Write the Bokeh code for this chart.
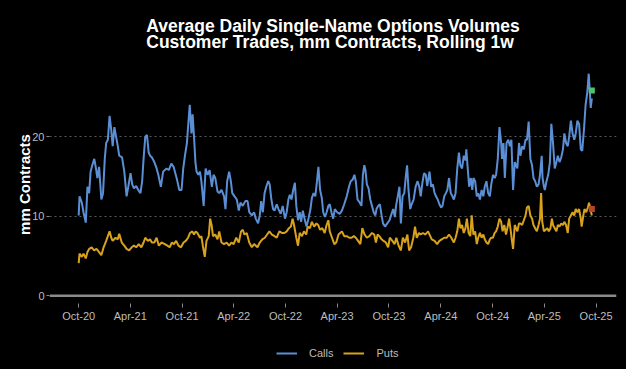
import pandas as pd
from bokeh.plotting import figure
from bokeh.layouts import column
from bokeh.models import (Range1d, FixedTicker, DatetimeTickFormatter, Span,
                          Legend, LegendItem, Title, ColumnDataSource)
from bokeh.embed import file_html
from bokeh.resources import INLINE

# ---------------- data ----------------
start_date = "2020-10-01"

call_days = [0, 3, 11, 17, 25, 31, 37, 42, 48, 55, 61, 66, 72, 80, 86, 92, 97, 103, 109, 115,
             120, 126, 132, 138, 143, 153, 161, 169, 175, 183, 189, 195, 203, 210, 218, 224, 229,
             235, 241, 247, 252, 258, 267, 275, 281, 290, 298, 310,
             318, 327, 335, 341, 347, 355, 363, 369, 375, 382, 386, 392, 398, 402, 407, 412, 416,
             422, 428, 433, 441, 448, 455, 462, 470, 476, 482, 490, 496, 504, 513, 518, 524, 531,
             537, 542, 550, 558, 565, 571, 579, 588, 596, 602, 611, 619,
             625, 633, 639, 644, 650, 656, 662, 669, 674, 680, 686, 691, 699, 705, 713, 720, 728,
             734, 740, 745, 751, 757, 763, 768, 774, 780, 785, 791, 797, 804, 811, 818, 823, 829,
             835, 841, 846, 852, 858, 863, 869, 875, 881, 886, 892, 898, 904, 912, 921, 929,
             937, 946, 954, 960, 967, 973, 978, 984, 992, 998, 1003, 1008, 1012, 1017, 1023, 1029,
             1035, 1041, 1047, 1051, 1057, 1063, 1069, 1074, 1081, 1089, 1097, 1104, 1110, 1116,
             1120, 1126, 1132, 1137, 1143, 1149, 1155, 1159, 1164, 1170, 1175, 1182, 1189, 1196,
             1202, 1207, 1213, 1219, 1225, 1230, 1238,
             1244, 1250, 1256, 1261, 1267, 1273, 1279, 1284, 1290, 1296, 1301, 1307, 1313, 1319,
             1324, 1330, 1336, 1342, 1347, 1353, 1359, 1365, 1368, 1373, 1378, 1384, 1389, 1393,
             1399, 1405, 1410, 1416, 1422, 1428, 1433, 1439, 1445, 1451, 1456, 1462, 1468, 1473,
             1479, 1485, 1491, 1494, 1499, 1504, 1510, 1516, 1522, 1527, 1533, 1539, 1548,
             1554, 1559, 1565, 1571, 1577, 1582, 1588, 1594, 1600, 1605, 1611, 1617, 1623, 1628,
             1634, 1637, 1642, 1645, 1651, 1657, 1663, 1668, 1674, 1680, 1686, 1691, 1697, 1703,
             1709, 1714, 1720, 1726, 1731, 1737, 1743, 1749, 1754, 1760, 1766, 1772, 1777, 1783,
             1789, 1795, 1800, 1804, 1807, 1811]

calls = [10.1, 12.5, 11.7, 10.5, 9.2, 13.7, 12.9, 15.6, 16.4, 17.2, 16.0, 14.8, 16.2, 12.1, 12.9,
         17.2, 19.2, 19.6, 22.6, 20.8, 18.8, 21.2, 20.0, 18.8, 17.6, 17.4, 15.6, 12.5, 13.7, 15.4,
         14.0, 13.5, 13.8, 13.3, 12.9, 14.4, 17.2, 20.0, 20.2, 18.0, 17.6, 17.4, 16.8, 16.0, 15.2,
         13.7, 15.6, 16.0,
         15.8, 16.6, 16.2, 15.4, 14.6, 13.3, 13.3, 16.0, 17.6, 19.2, 21.2, 24.0, 20.4, 22.8, 20.0,
         16.8, 15.6, 15.2, 15.6, 14.4, 11.3, 16.0, 15.2, 15.8, 13.7, 15.2, 14.8, 13.1, 12.9, 13.3,
         12.5, 10.9, 14.4, 15.6, 14.4, 12.9, 12.5, 12.1, 10.7, 11.7, 11.3, 11.9, 11.9, 10.5, 10.1,
         10.5,
         9.7, 9.1, 10.1, 11.9, 10.5, 12.9, 13.7, 14.4, 14.0, 12.1, 10.9, 10.7, 11.5, 10.9, 10.3,
         11.3, 9.7, 10.5, 12.1, 12.7, 12.1, 13.3, 14.2, 11.3, 9.5, 10.5, 9.3, 10.7, 9.7, 8.7,
         9.7, 10.9, 12.3, 12.9, 12.5, 14.4, 16.2, 13.3, 12.3, 10.5, 9.9, 10.5, 11.3, 11.5, 10.5,
         9.7, 10.9, 10.5, 10.3, 10.7,
         11.5, 12.5, 13.7, 14.4, 14.6, 15.2, 14.4, 12.1, 11.7, 11.3, 15.2, 16.4, 15.8, 14.0, 13.5,
         12.1, 11.3, 10.5, 10.1, 10.9, 11.3, 11.5, 10.1, 9.1, 8.7, 9.1, 9.5, 10.3, 10.9, 9.9,
         11.3, 12.5, 13.7, 9.1, 12.5, 12.9, 15.2, 16.4, 13.3, 10.9, 11.5, 12.1, 13.7, 14.4, 13.7,
         12.5, 14.2, 15.4, 15.2, 13.8, 15.6,
         13.7, 14.0, 12.9, 12.5, 12.1, 11.5, 11.1, 11.3, 12.5, 12.9, 13.3, 14.8, 12.9, 12.5, 12.1,
         12.9, 16.0, 18.0, 16.4, 16.0, 17.6, 17.0, 18.4, 16.0, 13.7, 14.8, 13.3, 14.8, 14.4, 12.5,
         12.9, 12.1, 13.3, 12.5, 13.7, 14.4, 12.9, 12.5, 14.0, 15.2, 14.8, 15.2, 17.2, 21.2, 19.2,
         17.2, 19.2, 14.8, 19.2, 19.6, 18.8, 19.6, 13.3, 16.8, 16.0,
         19.2, 17.6, 18.8, 18.4, 19.6, 19.6, 21.9, 17.2, 16.4, 14.8, 14.4, 13.7, 14.0, 15.2, 17.6,
         14.8, 13.7, 13.3, 14.4, 15.2, 16.8, 21.6, 19.2, 16.0, 16.8, 17.6, 16.8, 17.4, 18.4, 20.4,
         19.2, 18.8, 20.0, 22.0, 20.4, 19.6, 20.4, 22.0, 21.6, 18.4, 18.2, 20.8, 24.0, 25.6, 27.9,
         25.6, 23.6, 24.8]

put_days = [0, 3, 11, 17, 25, 31, 37, 46, 54, 63, 72, 80, 88, 97, 103, 109, 115, 120, 130, 138,
            143, 152, 161, 169, 178, 187, 195, 203, 212, 221, 229, 235, 244, 252, 258, 267, 275,
            283, 292, 304,
            313, 321, 329, 336, 344, 352, 361, 370, 378, 386, 393, 401, 407, 413, 419, 428, 433,
            439, 445, 451, 459, 464, 469, 474, 482, 490, 496, 504, 513, 522, 531, 539, 547, 556,
            565, 573, 579, 585, 593, 602, 611, 619,
            631, 639, 648, 657, 665, 673, 682, 691, 699, 708, 717, 726, 734, 742, 749, 755, 760,
            768, 774, 780, 788, 795, 803, 808, 816, 823, 831, 839, 845, 852, 860, 868, 875, 881,
            886, 894, 902, 909, 917, 929,
            937, 946, 955, 963, 971, 978, 986, 994, 1001, 1009, 1017, 1026, 1035, 1043, 1049, 1055,
            1061, 1069, 1076, 1084, 1092, 1098, 1107, 1115, 1121, 1129, 1137, 1144, 1152, 1160,
            1166, 1173, 1181, 1187, 1193, 1201, 1207, 1215, 1223, 1233,
            1246, 1256, 1265, 1273, 1281, 1290, 1299, 1307, 1315, 1324, 1330, 1336, 1342, 1347,
            1353, 1359, 1365, 1370, 1376, 1382, 1387, 1393, 1399, 1405, 1410, 1416, 1422, 1428,
            1433, 1439, 1445, 1451, 1456, 1462, 1468, 1473, 1479, 1485, 1491, 1496, 1502, 1508,
            1514, 1519, 1525, 1529, 1533, 1539, 1548,
            1554, 1559, 1565, 1571, 1577, 1582, 1588, 1594, 1600, 1605, 1611, 1617, 1623, 1628,
            1632, 1636, 1642, 1648, 1654, 1659, 1665, 1670, 1674, 1680, 1686, 1691, 1697, 1703,
            1709, 1714, 1720, 1726, 1731, 1737, 1743, 1749, 1754, 1760, 1766, 1772, 1775, 1781,
            1785, 1791, 1797, 1801, 1806, 1811]

puts = [4.1, 5.3, 4.9, 5.3, 4.7, 5.5, 5.9, 6.1, 5.7, 5.9, 5.5, 5.1, 6.1, 6.9, 7.5, 8.1, 7.3, 6.9,
        7.3, 7.1, 7.8, 6.7, 6.3, 5.9, 5.7, 6.1, 6.3, 6.1, 6.5, 6.1, 6.7, 7.3, 6.9, 7.1, 6.7, 6.7,
        7.3, 6.3, 6.7, 6.5,
        6.3, 6.1, 6.7, 6.5, 6.9, 6.3, 6.1, 6.7, 6.9, 7.3, 7.9, 8.1, 7.7, 8.1, 7.9, 7.3, 7.5, 6.1,
        4.9, 6.9, 7.5, 9.7, 8.9, 7.5, 7.7, 7.1, 8.1, 6.7, 6.5, 6.7, 6.3, 6.7, 6.5, 7.3, 6.7, 8.1,
        8.3, 7.7, 7.9, 6.7, 6.1, 6.5,
        6.1, 6.7, 7.1, 7.3, 7.7, 8.1, 7.7, 7.5, 7.3, 8.1, 7.9, 7.9, 8.1, 8.5, 8.7, 9.7, 8.9, 7.3,
        6.3, 7.9, 7.5, 8.1, 7.7, 8.7, 8.5, 9.3, 8.7, 9.1, 8.9, 8.3, 8.5, 7.9, 8.9, 9.5, 8.1, 7.3,
        6.5, 6.7, 7.7, 8.1,
        7.5, 7.5, 7.3, 7.3, 7.5, 7.3, 6.9, 6.5, 8.5, 7.7, 7.3, 7.5, 7.9, 7.7, 6.7, 7.7, 7.5, 7.1,
        6.9, 6.7, 6.1, 7.3, 6.9, 6.5, 7.3, 6.3, 5.7, 7.3, 6.7, 7.7, 5.7, 6.1, 7.3, 8.7, 7.3, 7.9,
        7.7, 7.9, 7.7, 8.1,
        7.1, 6.9, 6.5, 6.9, 7.1, 7.3, 7.3, 7.7, 7.3, 6.7, 7.3, 8.1, 9.7, 8.5, 8.9, 7.9, 8.5, 9.7,
        7.9, 7.5, 10.1, 7.7, 8.1, 6.5, 7.3, 7.9, 7.3, 7.7, 7.1, 6.7, 6.5, 7.1, 7.3, 7.3, 7.9, 8.1,
        8.7, 9.7, 9.3, 8.1, 8.9, 7.7, 8.7, 9.7, 8.1, 6.9, 5.9, 8.9, 8.1,
        9.1, 9.1, 8.9, 9.5, 10.1, 11.1, 11.3, 10.1, 9.7, 8.9, 8.5, 8.1, 8.9, 9.7, 12.9, 9.3, 8.1,
        8.3, 8.5, 8.1, 8.5, 9.7, 8.9, 8.5, 8.1, 8.9, 8.7, 9.1, 8.9, 9.3, 8.9, 7.9, 9.7, 10.1,
        10.5, 10.1, 10.9, 10.5, 10.9, 9.7, 8.7, 10.1, 10.9, 10.5, 11.1, 11.7, 10.9, 10.1]

# latest-value markers
last_day = [1811]
last_call = [25.8]
last_put = [10.9]

tick_dates = ["2020-10-01", "2021-04-01", "2021-10-01", "2022-04-01", "2022-10-01", "2023-04-01",
              "2023-10-01", "2024-04-01", "2024-10-01", "2025-04-01", "2025-10-01"]
tick_labels = ["Oct-20", "Apr-21", "Oct-21", "Apr-22", "Oct-22", "Apr-23",
               "Oct-23", "Apr-24", "Oct-24", "Apr-25", "Oct-25"]
y_ticks = [0, 10, 20]
grid_ticks = [10, 20]
series_names = ["Calls", "Puts"]

title_text = "Average Daily Single-Name Options Volumes\nCustomer Trades, mm Contracts, Rolling 1w"

# ---------------- build ----------------
t0 = pd.Timestamp(start_date)
call_src = ColumnDataSource(dict(x=t0 + pd.to_timedelta(call_days, unit="D"), y=calls))
put_src = ColumnDataSource(dict(x=t0 + pd.to_timedelta(put_days, unit="D"), y=puts))
end_src_c = ColumnDataSource(dict(x=t0 + pd.to_timedelta(last_day, unit="D"), y=last_call))
end_src_p = ColumnDataSource(dict(x=t0 + pd.to_timedelta(last_day, unit="D"), y=last_put))

CALL_C = "#5b8fd5"
PUT_C = "#d9a21c"
FONT = "Liberation Sans"
TXT = "#bdbdbd"

xr = Range1d(pd.Timestamp("2020-06-20"), pd.Timestamp("2025-12-12"))

p = figure(width=626, height=337, x_axis_type="datetime", output_backend="svg",
           toolbar_location=None, tools="", x_range=xr,
           y_range=Range1d(-0.96, 28.93),
           min_border_left=49, min_border_right=10, min_border_top=62, min_border_bottom=34)

p.background_fill_color = "black"
p.border_fill_color = "black"
p.outline_line_color = None

p.title = Title(text=title_text, align="center", text_color="white", text_font=FONT,
                text_font_size="17.5px", text_font_style="bold", text_line_height=0.8,
                standoff=27)

# grid
p.xgrid.grid_line_color = None
p.ygrid.ticker = FixedTicker(ticks=grid_ticks)
p.ygrid.grid_line_color = "#5a5a5a"
p.ygrid.grid_line_dash = "2 3"
p.ygrid.grid_line_width = 1.2

zero = Span(location=0, dimension="width", line_color="#8a8a8a", line_width=2.5)
p.add_layout(zero)

# axes
tick_ms = [pd.Timestamp(d).value / 1e6 for d in tick_dates]
p.xaxis.ticker = FixedTicker(ticks=tick_ms)
p.xaxis.formatter = DatetimeTickFormatter(days="%b-%y", months="%b-%y", years="%b-%y")
p.xaxis.axis_line_color = None
p.xaxis.major_tick_line_color = "#8a8a8a"
p.xaxis.major_tick_out = 4
p.xaxis.major_tick_in = 0
p.xaxis.minor_tick_line_color = None
p.xaxis.major_label_text_color = TXT
p.xaxis.major_label_text_font = FONT
p.xaxis.major_label_text_font_size = "11px"
p.xaxis.major_label_standoff = 2

p.yaxis.ticker = FixedTicker(ticks=y_ticks)
p.yaxis.axis_line_color = None
p.yaxis.major_tick_line_color = "#8a8a8a"
p.yaxis.major_tick_out = 3
p.yaxis.major_tick_in = 0
p.yaxis.minor_tick_line_color = None
p.yaxis.major_label_text_color = TXT
p.yaxis.major_label_text_font = FONT
p.yaxis.major_label_text_font_size = "11px"
p.yaxis.major_label_standoff = 2
p.yaxis.axis_label = "mm Contracts"
p.yaxis.axis_label_text_color = "white"
p.yaxis.axis_label_text_font = FONT
p.yaxis.axis_label_text_font_size = "15px"
p.yaxis.axis_label_text_font_style = "bold"
p.yaxis.axis_label_standoff = -4

# series
p.line("x", "y", source=put_src, line_color=PUT_C, line_width=2)
p.line("x", "y", source=call_src, line_color=CALL_C, line_width=2)
p.scatter("x", "y", source=end_src_c, marker="square", size=6, fill_color="#4fc36a", line_color=None)
p.scatter("x", "y", source=end_src_p, marker="square", size=6, fill_color="#b8452a", line_color=None)

# legend strip below the chart (its own y range keeps the series out of view)
lg = figure(width=626, height=32, output_backend="svg", toolbar_location=None, tools="",
            x_range=xr, y_range=Range1d(1000, 1001),
            x_axis_location=None, y_axis_location=None,
            min_border_left=49, min_border_right=10, min_border_top=0, min_border_bottom=0)
lg.background_fill_color = "black"
lg.border_fill_color = "black"
lg.outline_line_color = None
lg.grid.visible = False
k_calls = lg.line("x", "y", source=call_src, line_color=CALL_C, line_width=2)
k_puts = lg.line("x", "y", source=put_src, line_color=PUT_C, line_width=2)
legend = Legend(items=[LegendItem(label=series_names[0], renderers=[k_calls]),
                       LegendItem(label=series_names[1], renderers=[k_puts])],
                orientation="horizontal", location=(227, 10),
                label_text_color=TXT, label_text_font=FONT, label_text_font_size="11px",
                background_fill_alpha=0, border_line_alpha=0,
                glyph_width=21, glyph_height=12, spacing=10, padding=0, margin=0,
                label_standoff=12)
lg.add_layout(legend, "center")

page = column(p, lg, spacing=0, styles={"background-color": "black"})

open("out.html", "w").write(file_html(page, INLINE))
